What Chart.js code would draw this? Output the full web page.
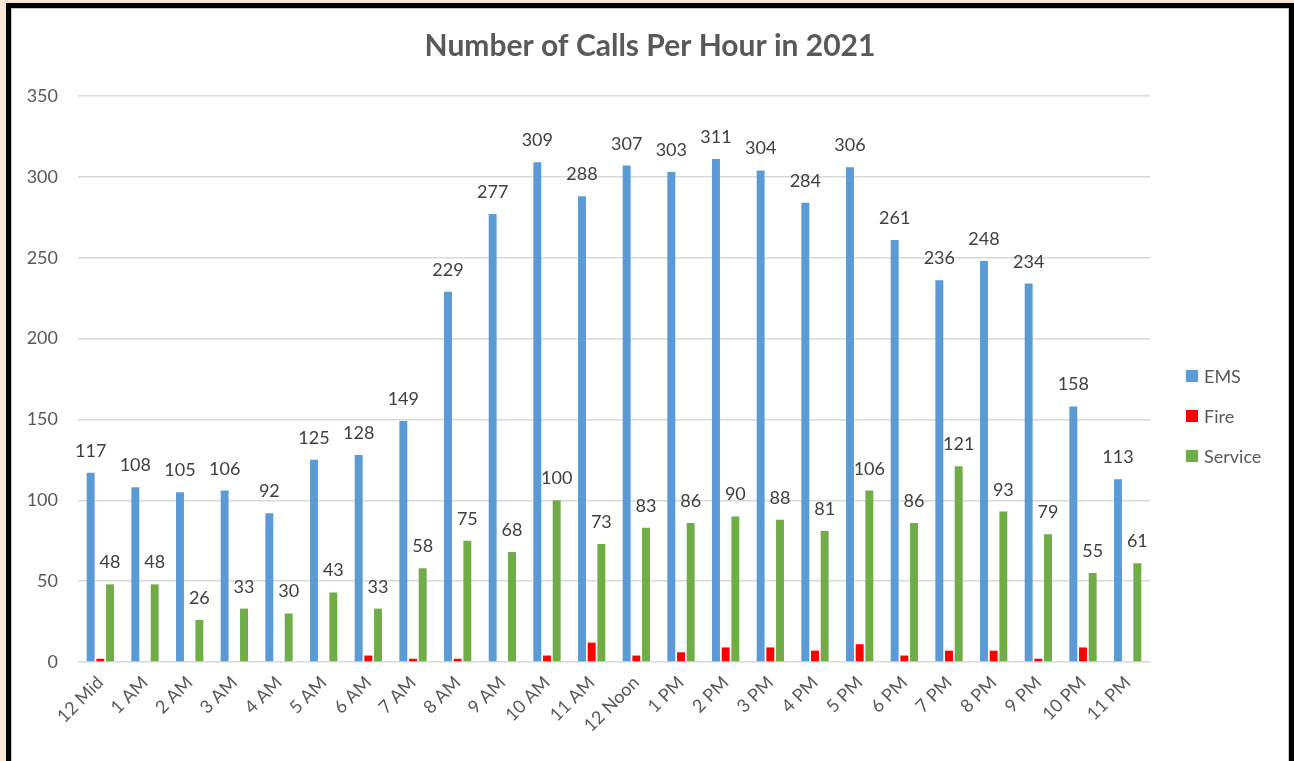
<!DOCTYPE html>
<html><head><meta charset="utf-8">
<script src="https://cdn.jsdelivr.net/npm/chart.js@4.4.1/dist/chart.umd.min.js"></script>
<style>
html,body{margin:0;padding:0;background:#f9e6d8;overflow:hidden;}
#frame{position:absolute;left:6px;top:3px;width:1278px;height:770px;border:5px solid #000;border-bottom:none;background:#fff;}
#frame::after{content:'';position:absolute;left:0;top:0;right:0;bottom:0;border:1px solid #c8c8c8;border-bottom:none;pointer-events:none;}
canvas{position:absolute;left:0;top:0;}
</style></head><body>
<div id="frame"><canvas id="c" width="1278" height="753"></canvas></div>
<script>
const categories = ['12 Mid','1 AM','2 AM','3 AM','4 AM','5 AM','6 AM','7 AM','8 AM','9 AM','10 AM','11 AM','12 Noon','1 PM','2 PM','3 PM','4 PM','5 PM','6 PM','7 PM','8 PM','9 PM','10 PM','11 PM'];
const emsValues = [117,108,105,106,92,125,128,149,229,277,309,288,307,303,311,304,284,306,261,236,248,234,158,113];
const fireValues = [2,0,0,0,0,0,4,2,2,0,4,12,4,6,9,9,7,11,4,7,7,2,9,0];
const serviceValues = [48,48,26,33,30,43,33,58,75,68,100,73,83,86,90,88,81,106,86,121,93,79,55,61];
const yTickValues = [0,50,100,150,200,250,300,350];
const seriesNames = ['EMS','Fire','Service'];
const seriesColors = ['#5b9bd5','#ff0000','#70ad47'];
const seriesShowLabels = [true,false,true];
const chartTitle = 'Number of Calls Per Hour in 2021';

const FONT = 'Lato, "Open Sans", sans-serif';
const valueSets = [emsValues, fireValues, serviceValues];

const dataLabelPlugin = {
  id: 'dataLabels',
  afterDatasetsDraw(chart) {
    const ctx = chart.ctx;
    ctx.save();
    ctx.font = '18px ' + FONT;
    ctx.fillStyle = '#404040';
    ctx.textAlign = 'center';
    ctx.textBaseline = 'alphabetic';
    chart.data.datasets.forEach((ds, di) => {
      if (!seriesShowLabels[di]) return;
      const meta = chart.getDatasetMeta(di);
      meta.data.forEach((bar, i) => {
        ctx.fillText(String(ds.data[i]), bar.x, bar.y - 16);
      });
    });
    ctx.restore();
  }
};

const legendPlugin = {
  id: 'rightLegend',
  afterDraw(chart) {
    const ctx = chart.ctx;
    ctx.save();
    ctx.font = '18px ' + FONT;
    ctx.textBaseline = 'middle';
    ctx.textAlign = 'left';
    chart.data.datasets.forEach((ds, i) => {
      const cy = 368 + i * 40;
      ctx.fillStyle = ds.backgroundColor;
      ctx.fillRect(1175, cy - 6, 12, 12);
      ctx.fillStyle = '#595959';
      ctx.fillText(ds.label, 1193, cy + 1);
    });
    ctx.restore();
  }
};

new Chart(document.getElementById('c'), {
  type: 'bar',
  data: {
    labels: categories,
    datasets: seriesNames.map((name, i) => ({
      label: name,
      data: valueSets[i],
      backgroundColor: seriesColors[i],
      borderWidth: 0,
      categoryPercentage: 0.65,
      barPercentage: 0.82
    }))
  },
  options: {
    responsive: false,
    devicePixelRatio: 1,
    animation: false,
    layout: { padding: { left: 0, right: 0, top: 0, bottom: 0 } },
    plugins: {
      legend: { display: false },
      tooltip: { enabled: false },
      title: {
        display: true,
        text: chartTitle,
        color: '#595959',
        font: { family: FONT, size: 30, weight: 'bold', lineHeight: 1.2 },
        padding: { top: 20, bottom: 32 }
      }
    },
    scales: {
      x: {
        grid: { display: false, drawTicks: false },
        border: { display: false },
        ticks: {
          color: '#595959',
          font: { family: FONT, size: 18 },
          maxRotation: 45, minRotation: 45,
          padding: 10,
          autoSkip: false
        },
        afterFit(scale) { scale.height = 99; }
      },
      y: {
        min: 0, max: 350,
        afterBuildTicks(scale) { scale.ticks = yTickValues.map(v => ({ value: v })); },
        grid: { color: '#d9d9d9', lineWidth: 1.5, drawTicks: false },
        border: { display: false },
        ticks: {
          color: '#595959',
          font: { family: FONT, size: 18 },
          padding: 20
        },
        afterFit(scale) { scale.width = 67; }
      },
      legendSpace: {
        type: 'linear',
        position: 'right',
        display: true,
        grid: { display: false, drawTicks: false },
        border: { display: false },
        ticks: { display: false },
        afterFit(scale) { scale.width = 139; }
      }
    }
  },
  plugins: [dataLabelPlugin, legendPlugin]
});
</script>
</body></html>
